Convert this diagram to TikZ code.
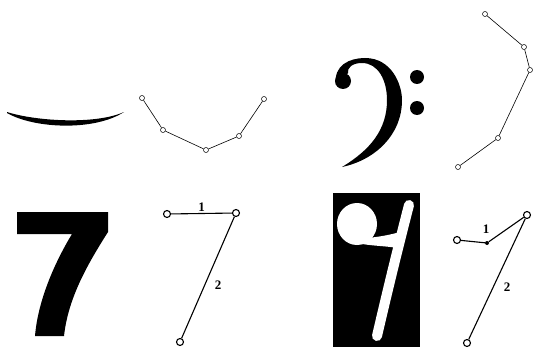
\documentclass[tikz,border=0pt]{standalone}
\usepackage{fontspec}
\setmainfont{Liberation Serif}
\begin{document}
\begin{tikzpicture}[x=1pt,y=-1pt,
  sv/.style={circle,draw,inner sep=0pt,minimum size=5pt,line width=0.5pt},
  bv/.style={circle,draw,inner sep=0pt,minimum size=7pt,line width=1.1pt},
  dv/.style={circle,fill,inner sep=0pt,minimum size=4pt},
  sl/.style={line width=0.6pt},
  bl/.style={line width=1.1pt},
  lab/.style={font=\bfseries\fontsize{13}{13}\selectfont,inner sep=1pt}]
\useasboundingbox (0,0) rectangle (533,361);
% top-left stroke
\fill (7,112) .. controls (35,121) and (95,125) .. (124,112)
  .. controls (95,131) and (35,129) .. (7,113) -- cycle;
% polyline 1
\node[sv] (a1) at (142,98) {};
\node[sv] (a2) at (163,130) {};
\node[sv] (a3) at (206,150) {};
\node[sv] (a4) at (239,136) {};
\node[sv] (a5) at (264,99) {};
\draw[sl] (a1) -- (a2) -- (a3) -- (a4) -- (a5);
% bass clef
\fill (336,85) .. controls (333,65) and (350,58) .. (365,58)
  .. controls (392,58) and (402,85) .. (402,100)
  .. controls (402,135) and (375,160) .. (342,167)
  .. controls (370,150) and (387,130) .. (387,100)
  .. controls (387,80) and (378,63) .. (362,63)
  .. controls (352,63) and (347,68) .. (348,73) -- cycle;
\fill (343,81) circle (8);
\fill (417,77) circle (7);
\fill (417,108) circle (7);
% polyline 2
\node[sv] (b1) at (485,14) {};
\node[sv] (b2) at (524,47) {};
\node[sv] (b3) at (530,70) {};
\node[sv] (b4) at (498,138) {};
\node[sv] (b5) at (458,167) {};
\draw[sl] (b1) -- (b2) -- (b3) -- (b4) -- (b5);
% seven
\fill (17,212) -- (108,212) -- (108,232) .. controls (85,268) and (68,300) .. (64,336)
  -- (35,336) .. controls (38,300) and (55,262) .. (72,234) -- (17,234) -- cycle;
% polyline 7
\node[bv] (c1) at (167,214) {};
\node[bv] (c2) at (236,213) {};
\node[bv] (c3) at (180,342) {};
\draw[bl] (c1) -- node[lab,above] {1} (c2);
\draw[bl] (c2) -- (c3);
\node[lab] (l2) at (218,285) {2};
% black box with 9
\fill (333,193) rectangle (420,347);
\fill[white] (357,224) ellipse (20 and 21);
\fill[white] (368,238) .. controls (376,237) and (386,236) .. (400,232)
  -- (398,248) .. controls (385,246) and (375,246) .. (362,244) -- cycle;
\draw[white,line width=10pt,line cap=round] (409,205) .. controls (400,240) and (390,280) .. (377,336);
% polyline 9
\node[bv] (d1) at (457,240) {};
\node[dv] (d2) at (487,243) {};
\node[bv] (d3) at (527,215) {};
\node[bv] (d4) at (467,343) {};
\draw[bl] (d1) -- (d2) -- (d3) -- (d4);
\node[lab] (m1) at (486,229) {1};
\node[lab] (m2) at (507,287) {2};
\end{tikzpicture}
\end{document}
